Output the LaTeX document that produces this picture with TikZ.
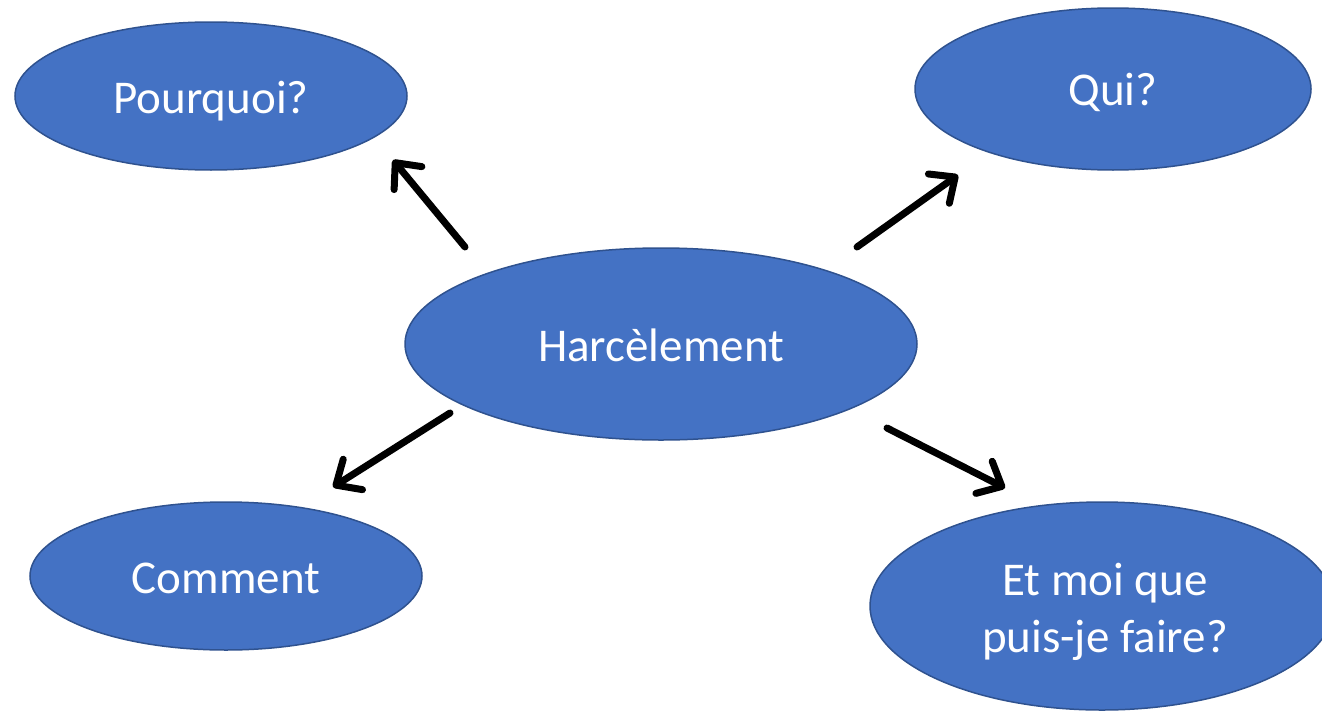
\documentclass[tikz,border=0pt]{standalone}
\usepackage{fontspec}
\setmainfont{Carlito}
\usetikzlibrary{shapes.geometric,arrows.meta}
\definecolor{fillblue}{HTML}{4472C4}
\definecolor{edgeblue}{HTML}{2F528F}
\begin{document}
\begin{tikzpicture}[x=1pt,y=-1pt,
  bubble/.style={ellipse,fill=fillblue,draw=edgeblue,line width=1.5pt,inner sep=0pt},
  lbl/.style={text=white,font=\fontsize{47}{57}\selectfont,align=center,inner sep=0pt},
  link/.style={line width=7pt,line cap=round,
    -{Straight Barb[length=20pt,width=36pt,line cap=round,line join=round]}}]
\useasboundingbox (0,0) rectangle (1322,712);
\clip (0,0) rectangle (1322,712);
\node[bubble,minimum width=392pt,minimum height=148pt,
  label={[lbl,yshift=-5pt]center:Pourquoi?}] (pq) at (211,96) {};
\node[bubble,minimum width=396pt,minimum height=162pt,
  label={[lbl,yshift=-3pt]center:Qui?}] (qui) at (1113,89) {};
\node[bubble,minimum width=512pt,minimum height=192pt,
  label={[lbl,yshift=-1pt]center:Harcèlement}] (h) at (661,344) {};
\node[bubble,minimum width=392pt,minimum height=148pt,
  label={[lbl,yshift=-2pt]center:Comment}] (cm) at (226,576) {};
\node[bubble,minimum width=464pt,minimum height=208pt,
  label={[lbl,yshift=-6pt,xshift=3pt]center:Et moi que\\puis-je faire?}] (et) at (1102,606) {};
\coordinate (a1s) at (465,247); \coordinate (a1e) at (393,160);
\coordinate (a2s) at (857,247); \coordinate (a2e) at (958,175);
\coordinate (a3s) at (450,413); \coordinate (a3e) at (333,487);
\coordinate (a4s) at (887,428); \coordinate (a4e) at (1005,488);
\draw[link] (a1s) -- (a1e);
\draw[link] (a2s) -- (a2e);
\draw[link] (a3s) -- (a3e);
\draw[link] (a4s) -- (a4e);
\end{tikzpicture}
\end{document}
